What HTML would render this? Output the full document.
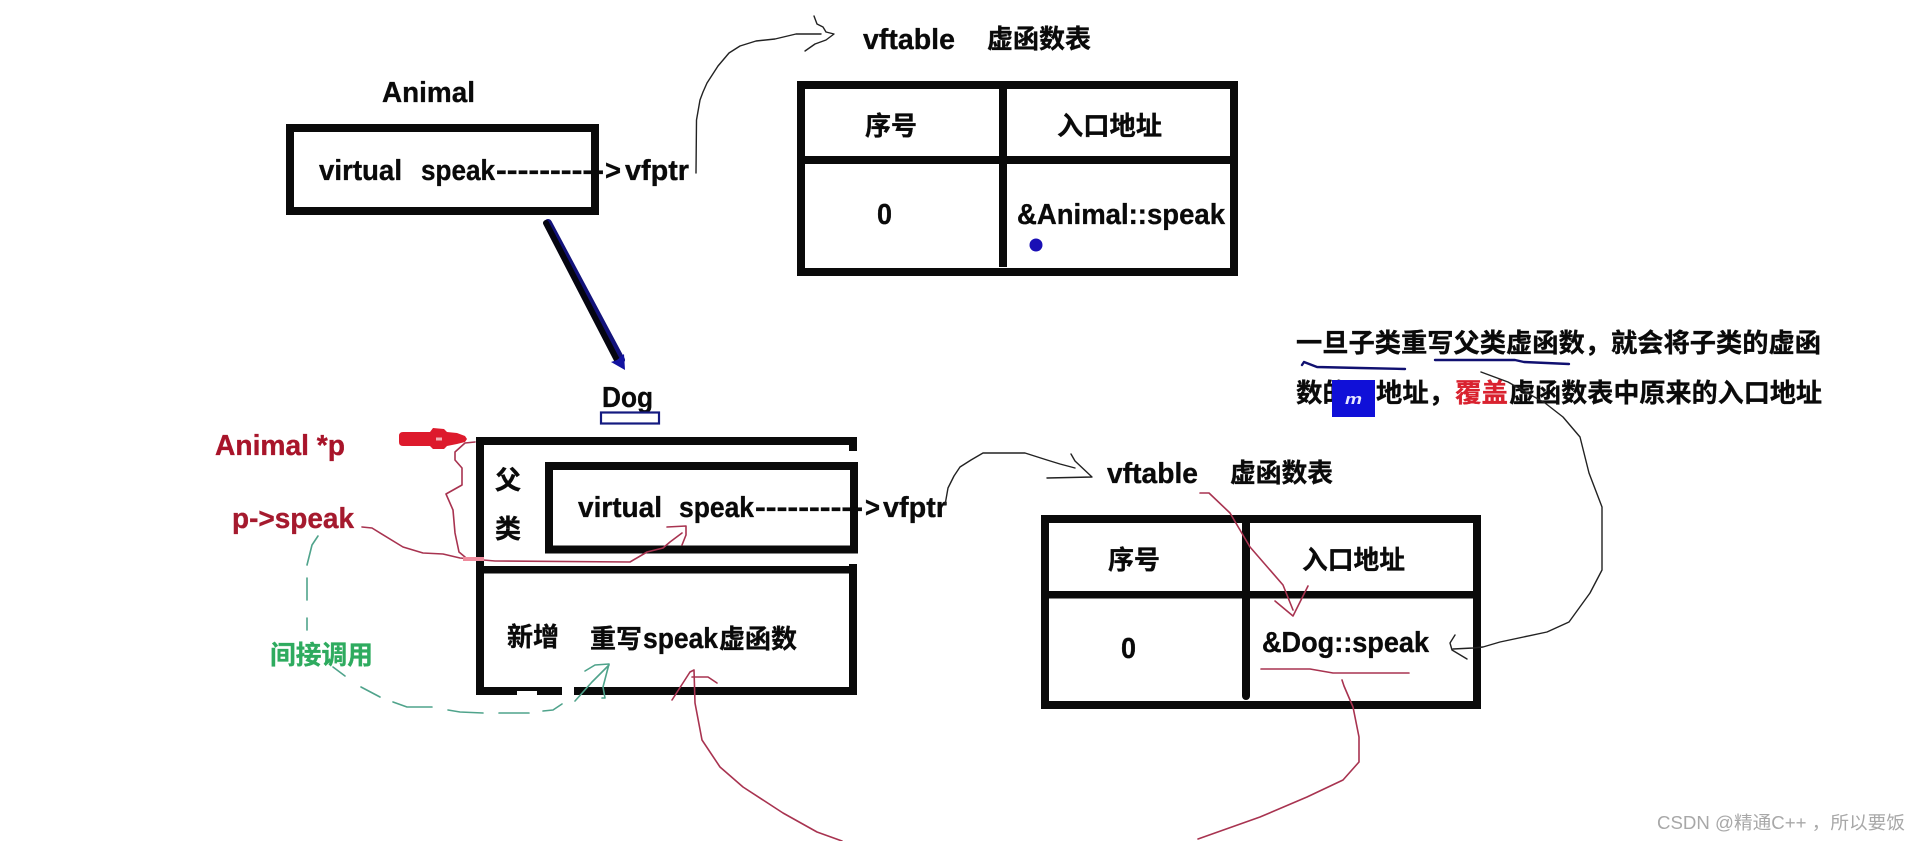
<!DOCTYPE html>
<html lang="zh">
<head>
<meta charset="utf-8">
<title>虚函数表</title>
<style>
html,body{margin:0;padding:0;background:#fff;width:1920px;height:841px;overflow:hidden}
svg{display:block}
text{font-family:"Liberation Sans","Noto Sans CJK SC",sans-serif;font-weight:700;font-size:29px;fill:#0a0a0a;stroke:#0a0a0a;stroke-width:.35px}
text.c{font-size:26px}
text.w{font-size:18px;font-weight:400;fill:#a8a8a8;stroke:none}
.l{fill:none;stroke-linejoin:round;stroke-linecap:round}
.k{stroke:#222;stroke-width:1.4}
.r{stroke:#a83350;stroke-width:1.6}
.g{stroke:#4fa38b;stroke-width:1.6}
.n{stroke:#101070;stroke-width:2.4}
</style>
</head>
<body>
<svg width="1920" height="841" viewBox="0 0 1920 841" xmlns="http://www.w3.org/2000/svg">
<rect width="1920" height="841" fill="#fff"/>

<!-- Animal -->
<text x="382" y="102" textLength="93" lengthAdjust="spacingAndGlyphs">Animal</text>
<rect x="290" y="128" width="305" height="83" fill="none" stroke="#0a0a0a" stroke-width="8"/>
<text x="319" y="180" textLength="83" lengthAdjust="spacingAndGlyphs">virtual</text>
<text x="421" y="180" textLength="74" lengthAdjust="spacingAndGlyphs">speak</text>
<text x="496" y="180" textLength="108" lengthAdjust="spacingAndGlyphs">----------</text>
<text x="605" y="180" textLength="16" lengthAdjust="spacingAndGlyphs">&gt;</text>
<text x="625" y="180" textLength="64" lengthAdjust="spacingAndGlyphs">vfptr</text>
<polyline class="l k" points="696,173 696.5,120 700,100 703,92 707,83 718,66 729,53 740,46 756,41 775,39 796,34 821,34"/>
<polyline class="l k" points="814,16 817,24 823,27 826,32 834,34 826,40 815,44 805,51"/>

<!-- inheritance arrow -->
<line x1="548" y1="223" x2="621" y2="360" stroke="#12127a" stroke-width="8" stroke-linecap="round"/>
<line x1="546" y1="223" x2="618" y2="362" stroke="#050510" stroke-width="6" stroke-linecap="round"/>
<polygon points="625,370 611,362 617,360 624,354" fill="#1212a0"/>

<!-- table 1 -->
<rect x="801" y="85" width="433" height="187" fill="none" stroke="#0a0a0a" stroke-width="8"/>
<rect x="999" y="85" width="8" height="182" fill="#0a0a0a"/>
<circle cx="1003" cy="263" r="4" fill="#0a0a0a"/>
<rect x="801" y="156" width="433" height="8" fill="#0a0a0a"/>
<text x="863" y="49" textLength="92" lengthAdjust="spacingAndGlyphs">vftable</text>
<text class="c" x="987" y="48" textLength="104" lengthAdjust="spacingAndGlyphs">虚函数表</text>
<text class="c" x="865" y="135" textLength="52" lengthAdjust="spacingAndGlyphs">序号</text>
<text class="c" x="1057" y="135" textLength="105" lengthAdjust="spacingAndGlyphs">入口地址</text>
<text x="877" y="224" textLength="15" lengthAdjust="spacingAndGlyphs">0</text>
<text x="1017" y="224" textLength="208" lengthAdjust="spacingAndGlyphs">&amp;Animal::speak</text>
<circle cx="1036" cy="245" r="6.5" fill="#1a0fb5"/>

<!-- Dog -->
<text x="602" y="407" textLength="51" lengthAdjust="spacingAndGlyphs">Dog</text>
<rect x="601" y="412.5" width="58" height="11" fill="none" stroke="#141a80" stroke-width="2.2"/>

<rect x="476" y="437" width="381" height="8" fill="#0a0a0a"/>
<rect x="849" y="437" width="8" height="14" fill="#0a0a0a"/>
<rect x="476" y="437" width="8" height="258" fill="#0a0a0a"/>
<rect x="549" y="466" width="305" height="83.5" fill="none" stroke="#0a0a0a" stroke-width="8"/>
<rect x="484" y="566" width="373" height="7.5" fill="#0a0a0a"/>
<rect x="849" y="564" width="8" height="131" fill="#0a0a0a"/>
<rect x="476" y="687" width="86" height="8" fill="#0a0a0a"/>
<rect x="574" y="687" width="283" height="8" fill="#0a0a0a"/>
<rect x="517" y="691" width="20" height="4" fill="#fff"/>

<text class="c" x="495" y="489">父</text>
<text class="c" x="495" y="538">类</text>
<text x="578" y="517" textLength="84" lengthAdjust="spacingAndGlyphs">virtual</text>
<text x="679" y="517" textLength="75" lengthAdjust="spacingAndGlyphs">speak</text>
<text x="755" y="517" textLength="108" lengthAdjust="spacingAndGlyphs">----------</text>
<text x="865" y="517" textLength="15" lengthAdjust="spacingAndGlyphs">&gt;</text>
<text x="883" y="517" textLength="64" lengthAdjust="spacingAndGlyphs">vfptr</text>
<text class="c" x="507" y="646" textLength="52" lengthAdjust="spacingAndGlyphs">新增</text>
<text class="c" x="590" y="648" textLength="52" lengthAdjust="spacingAndGlyphs">重写</text>
<text x="643" y="648" textLength="75" lengthAdjust="spacingAndGlyphs">speak</text>
<text class="c" x="719" y="648" textLength="78" lengthAdjust="spacingAndGlyphs">虚函数</text>

<polyline class="l k" points="945,505 948,488 954,476 960,467 971,460 983,453 1025,453 1047,460 1060,464 1075,468"/>
<polyline class="l k" points="1071,454 1075,461 1092,477 1047,478"/>

<!-- left labels -->
<text x="215" y="455" textLength="130" lengthAdjust="spacingAndGlyphs" style="fill:#a8142a;stroke:#a8142a">Animal *p</text>
<text x="232" y="528" textLength="122" lengthAdjust="spacingAndGlyphs" style="fill:#a51a2e;stroke:#a51a2e">p-&gt;speak</text>
<text class="c" x="270" y="664" textLength="103" lengthAdjust="spacingAndGlyphs" style="fill:#2eab5f;stroke:#2eab5f">间接调用</text>

<!-- red marker -->
<path d="M403 432 L430 432 L433 428 L444 429 L447 432 L457 433 L465 436 L467 439 L465 442 L457 444 L447 446 L444 449 L433 449 L430 446 L403 446 Q399 446 399 442 L399 436 Q399 432 403 432Z" fill="#dd1a2c"/>
<rect x="436" y="437.5" width="6" height="3" fill="#f3b0b5"/>

<!-- red pointer lines -->
<polyline class="l r" points="475,442 465,443 455,452 455,460 462,468 462,485 446,494 453,510 455,533 459,552 465,557"/>
<polyline class="l r" points="362,527 372,528 403,547 423,553 443,554 460,558 495,561 630,562 647,552 663,548 670,542 682,533"/>
<polyline class="l r" points="667,527 686,526 686,535 682,545"/>
<rect x="463" y="557" width="21" height="4" fill="#ee8a9c"/>

<!-- green dashed -->
<polyline class="l g" points="318,536 312,545 307,565"/>
<polyline class="l g" points="307,578 307,600"/>
<polyline class="l g" points="307,618 307,630"/>
<polyline class="l g" points="333,667 345,676"/>
<polyline class="l g" points="361,687 380,697"/>
<polyline class="l g" points="393,702 407,707 432,707"/>
<polyline class="l g" points="448,710 460,712 483,713"/>
<polyline class="l g" points="499,713 529,713"/>
<polyline class="l g" points="543,711 553,710 562,704"/>
<polyline class="l g" points="575,701 592,682 609,665"/>
<polyline class="l g" points="585,671 595,665 609,664 603,687 605,698 602,698"/>

<!-- red rewrite line -->
<polyline class="l r" points="672,700 690,672 694,670 695,703 702,740 720,767 743,787 783,813 817,832 842,841"/>
<polyline class="l r" points="692,677 708,677 717,683"/>

<!-- table 2 -->
<rect x="1045" y="519" width="432" height="186" fill="none" stroke="#0a0a0a" stroke-width="8"/>
<rect x="1242" y="519" width="8" height="177" fill="#0a0a0a"/>
<circle cx="1246" cy="696" r="4" fill="#0a0a0a"/>
<rect x="1045" y="591" width="432" height="7.5" fill="#0a0a0a"/>
<text x="1107" y="483" textLength="91" lengthAdjust="spacingAndGlyphs">vftable</text>
<text class="c" x="1230" y="482" textLength="103" lengthAdjust="spacingAndGlyphs">虚函数表</text>
<text class="c" x="1108" y="569" textLength="52" lengthAdjust="spacingAndGlyphs">序号</text>
<text class="c" x="1302" y="569" textLength="103" lengthAdjust="spacingAndGlyphs">入口地址</text>
<text x="1121" y="658" textLength="15" lengthAdjust="spacingAndGlyphs">0</text>
<text x="1262" y="652" textLength="167" lengthAdjust="spacingAndGlyphs">&amp;Dog::speak</text>
<polyline class="l r" points="1261,669 1310,669 1333,673 1409,673"/>
<polyline class="l r" points="1200,493 1209,493 1230,513 1250,547 1283,585 1293,610"/>
<polyline class="l r" points="1275,601 1293,616 1308,586"/>
<polyline class="l r" points="1342,680 1344,686 1353,707 1359,737 1359,762 1343,780 1307,797 1260,817 1198,839"/>

<!-- right note -->
<text class="c" x="1296" y="352" textLength="525" lengthAdjust="spacingAndGlyphs">一旦子类重写父类虚函数，就会将子类的虚函</text>
<text class="c" x="1296" y="402" textLength="53" lengthAdjust="spacingAndGlyphs">数的</text>
<text class="c" x="1376" y="402" textLength="79" lengthAdjust="spacingAndGlyphs">地址，</text>
<text class="c" x="1455" y="402" textLength="53" lengthAdjust="spacingAndGlyphs" style="fill:#d9222f;stroke:#d9222f">覆盖</text>
<text class="c" x="1509" y="402" textLength="313" lengthAdjust="spacingAndGlyphs">虚函数表中原来的入口地址</text>
<rect x="1332" y="380" width="43" height="37" fill="#1010d8"/>
<text x="1345" y="404" textLength="17" lengthAdjust="spacingAndGlyphs" style="fill:#e8e8ff;stroke:none;font-size:15px;font-style:italic">m</text>
<polyline class="l n" points="1302,365 1304,362 1317,367 1360,368 1405,369"/>
<polyline class="l n" points="1435,360 1515,360 1524,362 1569,364"/>

<!-- black curve to note -->
<polyline class="l k" points="1455,635 1450,643 1452,650 1467,659"/>
<polyline class="l k" points="1453,649 1473,648 1483,647 1500,642 1547,632 1569,622 1590,593 1602,570 1602,507 1589,473 1580,437 1563,417 1545,403 1508,382 1481,372"/>

<!-- watermark -->
<text class="w" x="1657" y="829" textLength="248" lengthAdjust="spacingAndGlyphs">CSDN @精通C++ ，所以要饭</text>
</svg>
</body>
</html>
